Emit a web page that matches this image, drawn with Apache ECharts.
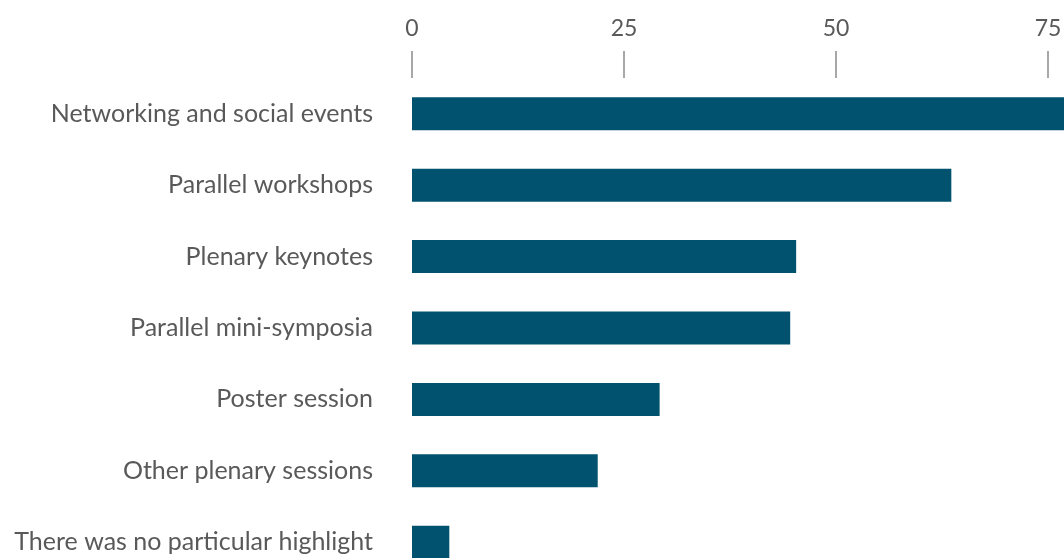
<!DOCTYPE html>
<html>
<head>
<meta charset="utf-8">
<script src="https://cdn.jsdelivr.net/npm/echarts@6/dist/echarts.min.js"></script>
<style>
  html, body { margin: 0; padding: 0; background: #ffffff; }
  #chart { width: 1064px; height: 558px; }
</style>
</head>
<body>
<div id="chart"></div>
<script>
// Conference highlights, share of respondents
const categories = [
  'Networking and social events',
  'Parallel workshops',
  'Plenary keynotes',
  'Parallel mini-symposia',
  'Poster session',
  'Other plenary sessions',
  'There was no particular highlight'
];
const values = [80, 63.6, 45.3, 44.6, 29.2, 21.9, 4.4];
const tickStep = 25;

const textColor = '#595959';
const barColor = '#01526F';
const fontFamily = 'Lato, "Open Sans", sans-serif';

const chart = echarts.init(document.getElementById('chart'), null, { renderer: 'canvas' });
chart.setOption({
  animation: false,
  backgroundColor: '#ffffff',
  grid: {
    left: 412,
    top: 78,
    right: -196,
    bottom: -20,
    containLabel: false,
    outerBoundsMode: 'none'
  },
  xAxis: {
    type: 'value',
    position: 'top',
    min: 0,
    max: 100,
    interval: tickStep,
    axisLine: { show: false },
    splitLine: { show: false },
    axisTick: {
      show: true,
      length: 27,
      lineStyle: { color: '#8c8c8c', width: 1.5 }
    },
    axisLabel: {
      margin: 38,
      color: textColor,
      fontFamily: fontFamily,
      fontSize: 23
    }
  },
  yAxis: {
    type: 'category',
    data: categories,
    inverse: true,
    axisLine: { show: false },
    axisTick: { show: false },
    splitLine: { show: false },
    axisLabel: {
      margin: 39,
      color: textColor,
      fontFamily: fontFamily,
      fontSize: 25,
      padding: [8, 0, 0, 0]
    }
  },
  series: [{
    type: 'bar',
    data: values,
    barWidth: 33,
    itemStyle: { color: barColor },
    label: { show: false }
  }]
});
</script>
</body>
</html>
